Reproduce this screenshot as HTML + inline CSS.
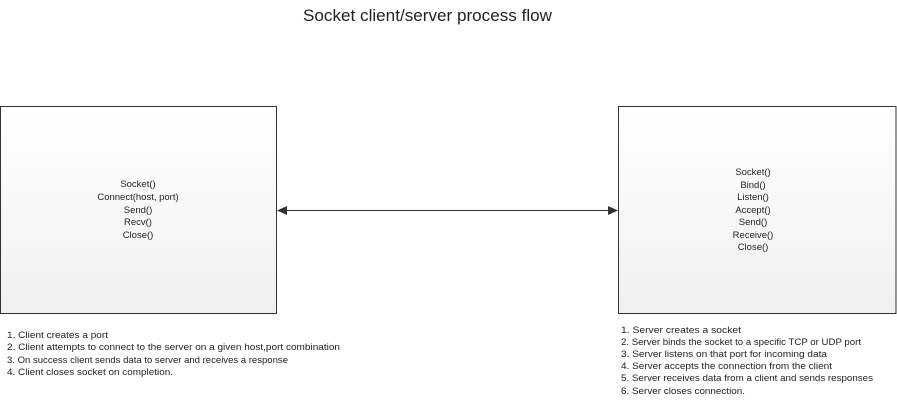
<!DOCTYPE html>
<html><head><meta charset="utf-8"><style>
html,body{margin:0;padding:0;background:#fff;width:897px;height:403px;overflow:hidden}
svg{display:block}
text{font-family:"Liberation Sans",sans-serif;fill:#222}
</style></head><body>
<svg width="897" height="403" viewBox="0 0 897 403" xmlns="http://www.w3.org/2000/svg">
<defs>
<linearGradient id="g" x1="0" y1="0" x2="0" y2="1"><stop offset="0" stop-color="#ffffff"/><stop offset="1" stop-color="#f0f0f0"/></linearGradient>
</defs>
<text x="303" y="21" font-size="16.5" textLength="249" lengthAdjust="spacingAndGlyphs">Socket client/server process flow</text>
<rect x="0.5" y="106.5" width="276" height="207" fill="url(#g)" stroke="#333" stroke-width="1"/>
<rect x="618.5" y="106.5" width="277.5" height="207" fill="url(#g)" stroke="#333" stroke-width="1"/>
<line x1="285" y1="210.5" x2="610" y2="210.5" stroke="#333" stroke-width="1"/>
<polygon points="277,210.5 287,206 287,215" fill="#333"/>
<polygon points="618,210.5 608,206 608,215" fill="#333"/>
<g font-size="9.5" text-anchor="middle">
<text x="138" y="187">Socket()</text>
<text x="138" y="200">Connect(host, port)</text>
<text x="138" y="213">Send()</text>
<text x="138" y="225">Recv()</text>
<text x="138" y="238">Close()</text>
<text x="753" y="175">Socket()</text>
<text x="753" y="188">Bind()</text>
<text x="753" y="200">Listen()</text>
<text x="753" y="213">Accept()</text>
<text x="753" y="225">Send()</text>
<text x="753" y="238">Receive()</text>
<text x="753" y="250">Close()</text>
</g>
<g font-size="9.5">
<text x="7" y="338" textLength="101" lengthAdjust="spacingAndGlyphs">1.  Client creates a port</text>
<text x="7" y="350" textLength="333" lengthAdjust="spacingAndGlyphs">2.  Client attempts to connect to the server on a given host,port combination</text>
<text x="7" y="363" textLength="281" lengthAdjust="spacingAndGlyphs">3. On success client sends data to server and receives a response</text>
<text x="7" y="375" textLength="166" lengthAdjust="spacingAndGlyphs">4.  Client closes socket on completion.</text>
<text x="621" y="333" textLength="120" lengthAdjust="spacingAndGlyphs">1.  Server creates a socket</text>
<text x="621" y="345" textLength="240" lengthAdjust="spacingAndGlyphs">2.  Server binds the socket to a specific TCP or UDP port</text>
<text x="621" y="357" textLength="206" lengthAdjust="spacingAndGlyphs">3.  Server listens on that port for incoming data</text>
<text x="621" y="369" textLength="211" lengthAdjust="spacingAndGlyphs">4.  Server accepts the connection from the client</text>
<text x="621" y="381" textLength="252" lengthAdjust="spacingAndGlyphs">5.  Server receives data from a client and sends responses</text>
<text x="621" y="394" textLength="124" lengthAdjust="spacingAndGlyphs">6.  Server closes connection.</text>
</g>
</svg>
</body></html>
